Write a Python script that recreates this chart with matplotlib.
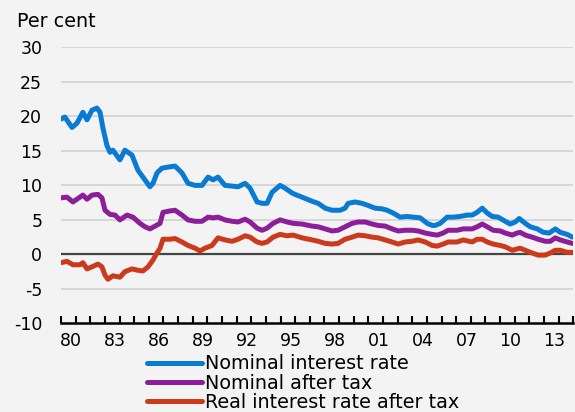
import matplotlib
matplotlib.use('Agg')
import matplotlib.pyplot as plt
import numpy as np

# values (decimal years, per cent)
nominal_years = [1980.00, 1980.27, 1980.75, 1981.09, 1981.50, 1981.78, 1982.12, 1982.46, 1982.67, 1982.87,
                 1983.14, 1983.35, 1983.55, 1984.03, 1984.37, 1984.85, 1985.26, 1985.60, 1986.08, 1986.29,
                 1986.56, 1986.90, 1987.45, 1987.79, 1988.27, 1988.68, 1989.16, 1989.64, 1990.05, 1990.39,
                 1990.73, 1991.21, 1991.69, 1992.10, 1992.58, 1992.92, 1993.40, 1993.74, 1994.08, 1994.42,
                 1994.97, 1995.31, 1995.79, 1995.99, 1996.47, 1997.16, 1997.57, 1998.05, 1998.52, 1999.07,
                 1999.41, 1999.62, 2000.10, 2000.57, 2000.98, 2001.46, 2001.94, 2002.28, 2002.69, 2003.17,
                 2003.65, 2004.06, 2004.54, 2005.02, 2005.36, 2005.56, 2005.91, 2006.38, 2006.79, 2007.27,
                 2007.75, 2008.09, 2008.43, 2008.78, 2009.12, 2009.46, 2009.87, 2010.35, 2010.69, 2011.03,
                 2011.31, 2011.72, 2012.06, 2012.54, 2012.95, 2013.36, 2013.77, 2014.11, 2014.59, 2014.93]
nominal = [19.6, 19.9, 18.4, 19.0, 20.6, 19.5, 20.9, 21.2, 20.6, 18.3,
           15.8, 14.8, 15.1, 13.7, 15.1, 14.4, 12.2, 11.2, 9.8, 10.3,
           11.8, 12.5, 12.7, 12.8, 11.8, 10.3, 10.0, 10.0, 11.2, 10.8,
           11.2, 10.0, 9.9, 9.8, 10.3, 9.6, 7.6, 7.4, 7.4, 9.0,
           10.0, 9.6, 8.9, 8.7, 8.3, 7.7, 7.4, 6.7, 6.4, 6.4,
           6.7, 7.4, 7.6, 7.4, 7.1, 6.7, 6.6, 6.4, 6.0, 5.4,
           5.5, 5.4, 5.3, 4.5, 4.2, 4.2, 4.5, 5.4, 5.4, 5.5,
           5.7, 5.7, 6.1, 6.7, 6.0, 5.5, 5.4, 4.8, 4.4, 4.7,
           5.2, 4.5, 4.0, 3.7, 3.2, 3.1, 3.7, 3.2, 2.9, 2.5]

after_tax_years = [1980.00, 1980.41, 1980.82, 1981.50, 1981.78, 1982.12, 1982.53, 1982.80, 1983.01, 1983.35,
                   1983.69, 1984.03, 1984.51, 1984.92, 1985.40, 1985.74, 1986.08, 1986.43, 1986.77, 1986.97,
                   1987.45, 1987.79, 1988.27, 1988.68, 1989.16, 1989.64, 1990.05, 1990.39, 1990.73, 1991.21,
                   1991.69, 1992.10, 1992.58, 1992.92, 1993.40, 1993.74, 1994.08, 1994.49, 1994.97, 1995.45,
                   1995.86, 1996.47, 1997.16, 1997.57, 1998.05, 1998.52, 1998.93, 1999.41, 1999.89, 2000.30,
                   2000.78, 2001.26, 2001.67, 2002.15, 2002.62, 2003.03, 2003.51, 2003.99, 2004.40, 2004.88,
                   2005.36, 2005.70, 2006.11, 2006.45, 2007.07, 2007.48, 2008.09, 2008.43, 2008.78, 2009.12,
                   2009.53, 2010.01, 2010.35, 2010.83, 2011.17, 2011.37, 2011.72, 2012.19, 2012.60, 2013.08,
                   2013.43, 2013.77, 2014.11, 2014.59, 2014.93]
after_tax = [8.2, 8.3, 7.6, 8.6, 8.0, 8.6, 8.7, 8.2, 6.4, 5.8,
             5.7, 5.0, 5.7, 5.4, 4.5, 4.0, 3.7, 4.1, 4.5, 6.1,
             6.3, 6.4, 5.7, 5.0, 4.8, 4.8, 5.4, 5.3, 5.4, 5.0,
             4.8, 4.7, 5.1, 4.7, 3.8, 3.5, 3.8, 4.5, 5.0, 4.7,
             4.5, 4.4, 4.1, 4.0, 3.7, 3.4, 3.5, 4.0, 4.5, 4.7,
             4.7, 4.4, 4.2, 4.1, 3.7, 3.4, 3.5, 3.5, 3.4, 3.1,
             2.9, 2.8, 3.1, 3.5, 3.5, 3.7, 3.7, 4.0, 4.4, 4.0,
             3.5, 3.4, 3.1, 2.8, 3.1, 3.2, 2.8, 2.5, 2.2, 1.9,
             1.9, 2.4, 2.1, 1.8, 1.6]

real_years = [1980.00, 1980.41, 1980.82, 1981.30, 1981.50, 1981.78, 1982.12, 1982.53, 1982.80, 1983.01,
              1983.21, 1983.55, 1984.03, 1984.37, 1984.85, 1985.26, 1985.60, 1985.95, 1986.29, 1986.56,
              1986.77, 1986.97, 1987.45, 1987.79, 1988.27, 1988.68, 1989.16, 1989.50, 1989.84, 1990.32,
              1990.73, 1991.21, 1991.69, 1992.10, 1992.58, 1992.92, 1993.40, 1993.74, 1994.08, 1994.49,
              1994.97, 1995.45, 1995.86, 1996.47, 1997.16, 1997.57, 1998.05, 1998.52, 1998.93, 1999.41,
              1999.89, 2000.30, 2000.78, 2001.26, 2001.67, 2002.15, 2002.62, 2003.03, 2003.51, 2003.99,
              2004.40, 2004.88, 2005.36, 2005.70, 2006.11, 2006.45, 2007.07, 2007.48, 2008.09, 2008.43,
              2008.78, 2009.12, 2009.53, 2010.01, 2010.35, 2010.83, 2011.17, 2011.37, 2011.72, 2012.19,
              2012.60, 2013.08, 2013.43, 2013.77, 2014.11, 2014.59, 2014.93]
real_after_tax = [-1.2, -1.0, -1.5, -1.5, -1.2, -2.1, -1.8, -1.4, -1.8, -3.0,
                  -3.6, -3.1, -3.3, -2.5, -2.1, -2.3, -2.4, -1.8, -0.8, 0.2,
                  0.9, 2.2, 2.2, 2.3, 1.8, 1.3, 0.9, 0.5, 0.9, 1.3,
                  2.4, 2.1, 1.9, 2.2, 2.7, 2.5, 1.8, 1.6, 1.8, 2.5,
                  2.9, 2.7, 2.8, 2.4, 2.1, 1.9, 1.6, 1.5, 1.6, 2.2,
                  2.5, 2.8, 2.7, 2.5, 2.4, 2.1, 1.8, 1.5, 1.8, 1.9,
                  2.1, 1.8, 1.3, 1.2, 1.5, 1.8, 1.8, 2.1, 1.8, 2.2,
                  2.2, 1.8, 1.5, 1.3, 1.1, 0.6, 0.8, 0.9, 0.6, 0.2,
                  -0.1, -0.1, 0.2, 0.6, 0.6, 0.3, 0.3]

labels = ['Nominal interest rate', 'Nominal after tax', 'Real interest rate after tax']
colors = ['#0a7bd3', '#8c1f99', '#cc3a1e']

plt.rcParams['font.family'] = 'DejaVu Sans'
plt.rcParams['axes.unicode_minus'] = False
bg = '#f3f3f3'

fig = plt.figure(figsize=(5.75, 4.12), dpi=100, facecolor=bg)
ax = fig.add_axes([0.106, 0.215, 0.891, 0.67], facecolor=bg)

for v in [30, 25, 20, 15, 10, 5, -5]:
    ax.axhline(v, color='#d2d2d2', lw=1.2, zorder=1)
ax.axhline(0, color='#444444', lw=1.6, zorder=2)

series = [(nominal_years, nominal), (after_tax_years, after_tax), (real_years, real_after_tax)]
for (xs, ys), lab, c in zip(series, labels, colors):
    ax.plot(xs, ys, color=c, lw=3.6, label=lab, solid_capstyle='round', zorder=3)

ax.set_xlim(1980, 2015)
ax.set_ylim(-10, 30)
ax.set_yticks(np.arange(-10, 31, 5))
ax.set_xticks(np.arange(1980, 2016, 1))
ax.set_xticks(np.arange(1980.7, 2015, 3), minor=True)
ax.set_xticklabels([])
ax.set_xticklabels([f'{int(y) % 100:02d}' for y in np.arange(1980, 2015, 3)], minor=True)
ax.tick_params(axis='x', which='major', direction='in', length=5, width=1.5, color='black')
ax.tick_params(axis='x', which='minor', length=0, labelsize=12.5, pad=6)
ax.tick_params(axis='y', length=0, labelsize=12.5, pad=13.5)
for s in ['top', 'right', 'left']:
    ax.spines[s].set_visible(False)
ax.spines['bottom'].set_linewidth(1.8)

fig.text(0.03, 0.948, 'Per cent', fontsize=13.8, va='center', ha='left')

fig.legend(loc='upper left', bbox_to_anchor=(0.2557, 0.14), frameon=False, fontsize=13.8,
           handlelength=2.85, handletextpad=0.2, labelspacing=0.02, borderpad=0, borderaxespad=0)

plt.savefig('out.png', dpi=100, facecolor=bg)
